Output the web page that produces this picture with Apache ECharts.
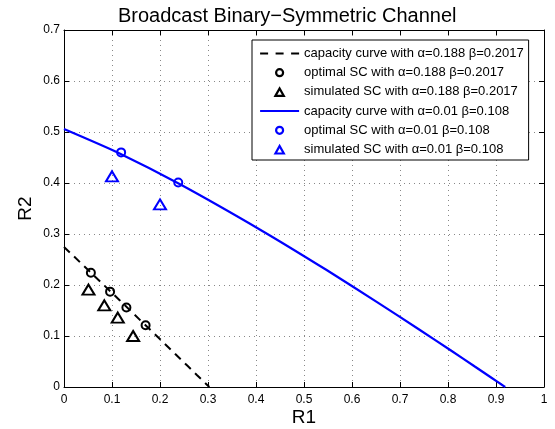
<!DOCTYPE html>
<html>
<head>
<meta charset="utf-8">
<script src="https://cdn.jsdelivr.net/npm/echarts@6/dist/echarts.min.js"></script>
<style>html,body{margin:0;padding:0;background:#fff;}#c{width:555px;height:429px;}</style>
</head>
<body>
<div id="c"></div>
<script>
// ---- data ----
var titleText = 'Broadcast Binary\u2212Symmetric Channel';
var xTicks = [0, 0.1, 0.2, 0.3, 0.4, 0.5, 0.6, 0.7, 0.8, 0.9, 1];
var yTicks = [0, 0.1, 0.2, 0.3, 0.4, 0.5, 0.6, 0.7];

var seriesNames = [
  'capacity curve with \u03b1=0.188 \u03b2=0.2017',
  'optimal SC with \u03b1=0.188 \u03b2=0.2017',
  'simulated SC with \u03b1=0.188 \u03b2=0.2017',
  'capacity curve with \u03b1=0.01 \u03b2=0.108',
  'optimal SC with \u03b1=0.01 \u03b2=0.108',
  'simulated SC with \u03b1=0.01 \u03b2=0.108'
];

var capA_R1 = [0, 0.0615, 0.1148, 0.1603, 0.1992, 0.2313, 0.2573, 0.2773, 0.2915, 0.3000, 0.3028];
var capA_R2 = [0.2747, 0.2193, 0.1712, 0.1297, 0.0946, 0.0651, 0.0415, 0.0232, 0.0103, 0.0026, 0];

var optA_R1 = [0.056, 0.096, 0.130, 0.170];
var optA_R2 = [0.224, 0.187, 0.156, 0.121];

var simA_R1 = [0.051, 0.084, 0.112, 0.144];
var simA_R2 = [0.191, 0.160, 0.136, 0.100];

var capB_R1 = [0, 0.1116, 0.2427, 0.4131, 0.5463, 0.6530, 0.7383, 0.8054, 0.8558, 0.8913, 0.9122, 0.9192];
var capB_R2 = [0.506, 0.460, 0.397, 0.306, 0.2298, 0.166, 0.1138, 0.0721, 0.0402, 0.0177, 0.0044, 0];

var optB_R1 = [0.119, 0.238];
var optB_R2 = [0.460, 0.401];

var simB_R1 = [0.100, 0.200];
var simB_R2 = [0.413, 0.358];

function pairs(xs, ys) { return xs.map(function (x, i) { return [x, ys[i]]; }); }

var FONT = 'Liberation Sans, Arial, Helvetica, sans-serif';
var BLUE = '#0000ff';

// legend icon shapes (box padded by invisible moveTo points: 39 x 10)
var PAD = 'M0,0 M39,10 ';
var ICON_DASH = 'path://' + PAD + 'M0,4h8v2h-8z M15.5,4h8v2h-8z M31,4h8v2h-8z';
var ICON_SOLID = 'path://' + PAD + 'M0,4h39v2h-39z';
var ICON_CIRCLE = 'path://' + PAD + 'M23,5 A3.5,3.5 0 1,1 16,5 A3.5,3.5 0 1,1 23,5 Z';
var ICON_TRI = 'path://' + PAD + 'M15.3,9 L19.5,1.5 L23.7,9 Z';

var chart = echarts.init(document.getElementById('c'), null, {renderer: 'canvas'});

function mkX(pos, showLabel) {
  return {
    type: 'value', position: pos, min: 0, max: 1, interval: 0.1,
    axisLine: {show: true, onZero: false, lineStyle: {color: '#000', width: 1}},
    axisTick: {show: true, inside: true, length: 5, lineStyle: {color: '#000'}},
    axisLabel: {show: showLabel, color: '#000', fontFamily: FONT, fontSize: 12, margin: 7},
    splitLine: {show: showLabel, lineStyle: {color: '#888', type: [1, 4], width: 1}},
    name: showLabel ? 'R1' : '', nameLocation: 'middle', nameGap: 21, nameMoveOverlap: false,
    nameTextStyle: {color: '#000', fontFamily: FONT, fontSize: 19}
  };
}
function mkY(pos, showLabel) {
  return {
    type: 'value', position: pos, min: 0, max: 0.7, interval: 0.1,
    axisLine: {show: true, onZero: false, lineStyle: {color: '#000', width: 1}},
    axisTick: {show: true, inside: true, length: 5, lineStyle: {color: '#000'}},
    axisLabel: {show: showLabel, color: '#000', fontFamily: FONT, fontSize: 12, margin: 4},
    splitLine: {show: showLabel, lineStyle: {color: '#888', type: [1, 4], width: 1}},
    name: showLabel ? 'R2' : '', nameLocation: 'middle', nameGap: 29, nameMoveOverlap: false,
    nameTextStyle: {color: '#000', fontFamily: FONT, fontSize: 19}
  };
}

function scatter(name, data, symbol, size, color) {
  return {
    name: name, type: 'scatter', data: data, symbol: symbol, symbolSize: size,
    itemStyle: {color: 'rgba(0,0,0,0)', borderColor: color, borderWidth: 2, opacity: 1},
    z: 5, silent: true
  };
}

var legendIcons = [ICON_DASH, ICON_CIRCLE, ICON_TRI, ICON_SOLID, ICON_CIRCLE, ICON_TRI];
var legendColors = ['#000', '#000', '#000', BLUE, BLUE, BLUE];

var option = {
  animation: false,
  backgroundColor: '#fff',
  title: {
    text: titleText, left: 113, top: 1,
    textStyle: {color: '#000', fontFamily: FONT, fontSize: 20, fontWeight: 'normal'}
  },
  grid: {left: 64, right: 11, top: 30, bottom: 42, containLabel: false, outerBoundsMode: 'none'},
  legend: {
    orient: 'vertical', left: 252, top: 40,
    backgroundColor: '#fff', borderColor: '#000', borderWidth: 1,
    padding: [7, 5, 4, 7],
    itemWidth: 39, itemHeight: 10, itemGap: 6.2,
    symbolKeepAspect: true,
    textStyle: {color: '#000', fontFamily: FONT, fontSize: 13},
    data: seriesNames.map(function (n, i) {
      var line = (i % 3 === 0);
      return {
        name: n, icon: legendIcons[i],
        itemStyle: line
          ? {color: legendColors[i], borderWidth: 0}
          : {color: 'rgba(0,0,0,0)', borderColor: legendColors[i], borderWidth: 2.2}
      };
    }),
    selectedMode: false
  },
  xAxis: [mkX('bottom', true), mkX('top', false)],
  yAxis: [mkY('left', true), mkY('right', false)],
  series: [
    {
      name: seriesNames[0], type: 'line', data: pairs(capA_R1, capA_R2),
      symbol: 'none', lineStyle: {color: '#000', width: 2, type: [8, 6]},
      itemStyle: {color: '#000'}, z: 3, silent: true
    },
    scatter(seriesNames[1], pairs(optA_R1, optA_R2), 'circle', 8, '#000'),
    scatter(seriesNames[2], pairs(simA_R1, simA_R2), 'triangle', [12, 10], '#000'),
    {
      name: seriesNames[3], type: 'line', data: pairs(capB_R1, capB_R2),
      symbol: 'none', smooth: 0.2,
      lineStyle: {color: BLUE, width: 2.2, type: 'solid'},
      itemStyle: {color: BLUE}, z: 3, silent: true
    },
    scatter(seriesNames[4], pairs(optB_R1, optB_R2), 'circle', 8, BLUE),
    scatter(seriesNames[5], pairs(simB_R1, simB_R2), 'triangle', [12, 10], BLUE)
  ]
};
chart.setOption(option);
</script>
</body>
</html>
